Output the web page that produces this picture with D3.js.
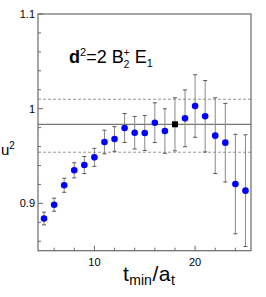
<!DOCTYPE html>
<html><head><meta charset="utf-8">
<script src="https://cdn.jsdelivr.net/npm/d3@7"></script>
<style>html,body{margin:0;padding:0;background:#fff;}</style>
</head><body>
<svg id="c" width="266" height="297"></svg>
<script>
const tmin   = [5,6,7,8,9,10,11,12,13,14,15,16,17,18,19,20,21,22,23,24,25];
const uVal   = [0.884,0.8986,0.9191,0.9349,0.9405,0.9486,0.9648,0.968,0.9796,0.9746,0.9743,0.9852,0.9764,0.9835,0.9898,1.0028,0.992,0.9715,0.9641,0.9204,0.9134];
const uErr   = [0.0067,0.0069,0.0074,0.008,0.009,0.0095,0.0125,0.013,0.0153,0.0172,0.0185,0.021,0.0235,0.028,0.030,0.033,0.0377,0.040,0.0415,0.0525,0.059];
const chosenT = 18;
const fitVal = 0.9835, fitHi = 1.0099, fitLo = 0.954;
const yMajor = [0.9, 1.0, 1.1];
const yMajorLabels = ["0.9", "1", "1.1"];
const yMinor = [0.86,0.88,0.92,0.94,0.96,0.98,1.02,1.04,1.06,1.08];
const xMajor = [10, 20];
const xMinor = [6,8,12,14,16,18,22,24];

const svg = d3.select("#c");
const L = 38, R = 251, T = 14, B = 250.7;
const x = d3.scaleLinear().domain([4.4, 25.55]).range([L, R]);
const y = d3.scaleLinear().domain([0.85, 1.1]).range([B, T]);
const font = "'Liberation Sans', Arial, Helvetica, sans-serif";

// fit lines
svg.append("line").attr("x1", L).attr("x2", R).attr("y1", y(fitVal)).attr("y2", y(fitVal))
  .attr("stroke", "#555").attr("stroke-width", 1);
[fitHi, fitLo].forEach(v => svg.append("line").attr("x1", L).attr("x2", R).attr("y1", y(v)).attr("y2", y(v))
  .attr("stroke", "#999").attr("stroke-width", 1).attr("stroke-dasharray", "3,2"));

// frame
svg.append("rect").attr("x", L).attr("y", T).attr("width", R - L).attr("height", B - T)
  .attr("fill", "none").attr("stroke", "#6a6a6a").attr("stroke-width", 1.2);

// y ticks
yMajor.forEach(v => svg.append("line").attr("x1", L).attr("x2", L + 5).attr("y1", y(v)).attr("y2", y(v)).attr("stroke", "#6a6a6a"));
yMinor.forEach(v => svg.append("line").attr("x1", L).attr("x2", L + 3).attr("y1", y(v)).attr("y2", y(v)).attr("stroke", "#6a6a6a"));
yMajor.forEach((v, i) => svg.append("text").attr("x", 35).attr("y", y(v) + 4).attr("text-anchor", "end")
  .attr("font-family", font).attr("font-size", 11).text(yMajorLabels[i]));
// x ticks
xMajor.forEach(v => svg.append("line").attr("x1", x(v)).attr("x2", x(v)).attr("y1", B).attr("y2", B - 5).attr("stroke", "#6a6a6a"));
xMinor.forEach(v => svg.append("line").attr("x1", x(v)).attr("x2", x(v)).attr("y1", B).attr("y2", B - 3).attr("stroke", "#6a6a6a"));
xMajor.forEach(v => svg.append("text").attr("x", x(v)).attr("y", 266).attr("text-anchor", "middle")
  .attr("font-family", font).attr("font-size", 11).text(v));

// error bars
const g = svg.append("g");
tmin.forEach((t, i) => {
  const cx = x(t), hi = y(uVal[i] + uErr[i]), lo = y(uVal[i] - uErr[i]);
  g.append("line").attr("x1", cx).attr("x2", cx).attr("y1", hi).attr("y2", lo).attr("stroke", "#888").attr("stroke-width", 1);
  [hi, lo].forEach(yy => g.append("line").attr("x1", cx - 2).attr("x2", cx + 2).attr("y1", yy).attr("y2", yy).attr("stroke", "#555").attr("stroke-width", 1));
});
// markers
tmin.forEach((t, i) => {
  if (t === chosenT) {
    g.append("rect").attr("x", x(t) - 3).attr("y", y(uVal[i]) - 3).attr("width", 6).attr("height", 6).attr("fill", "#000");
  } else {
    g.append("circle").attr("cx", x(t)).attr("cy", y(uVal[i])).attr("r", 3.3).attr("fill", "#0000ff");
  }
});

// sequential text helper
function seq(x0, y0, parts) {
  let px = x0;
  parts.forEach(p => {
    const t = svg.append("text").attr("font-family", font).attr("font-weight", p.weight || "normal");
    let w = 0;
    if (p.stack) {
      p.stack.forEach(s => {
        t.append("tspan").attr("x", px).attr("y", y0 + s.dy).attr("font-size", s.size).text(s.t);
      });
      w = t.node().getBBox().width;
    } else {
      t.attr("x", px + (p.gap || 0)).attr("y", y0 + (p.dy || 0)).attr("font-size", p.size).text(p.t);
      w = t.node().getComputedTextLength();
    }
    px += w + (p.gap || 0);
  });
  return px;
}

// x title t_min/a_t
seq(123, 281, [
  {t: "t", size: 21},
  {t: "min", size: 14, dy: 4, gap: 0.5},
  {t: "/", size: 21, gap: 0.5},
  {t: "a", size: 21, gap: 0.5},
  {t: "t", size: 14, dy: 4, gap: 0.5}
]);

// y title u²
seq(1, 155, [
  {t: "u", size: 15},
  {t: "2", size: 10, dy: -6}
]);

// annotation d²=2 B₂⁺ E₁
seq(69, 62.5, [
  {t: "d", size: 18, weight: "bold"},
  {t: "2", size: 11, dy: -7},
  {t: "=2\u00a0B", size: 18},
  {stack: [{t: "+", size: 10, dy: -7}, {t: "2", size: 10, dy: 5}]},
  {t: "\u00a0E", size: 18},
  {t: "1", size: 11, dy: 4}
]);
</script>
</body></html>
